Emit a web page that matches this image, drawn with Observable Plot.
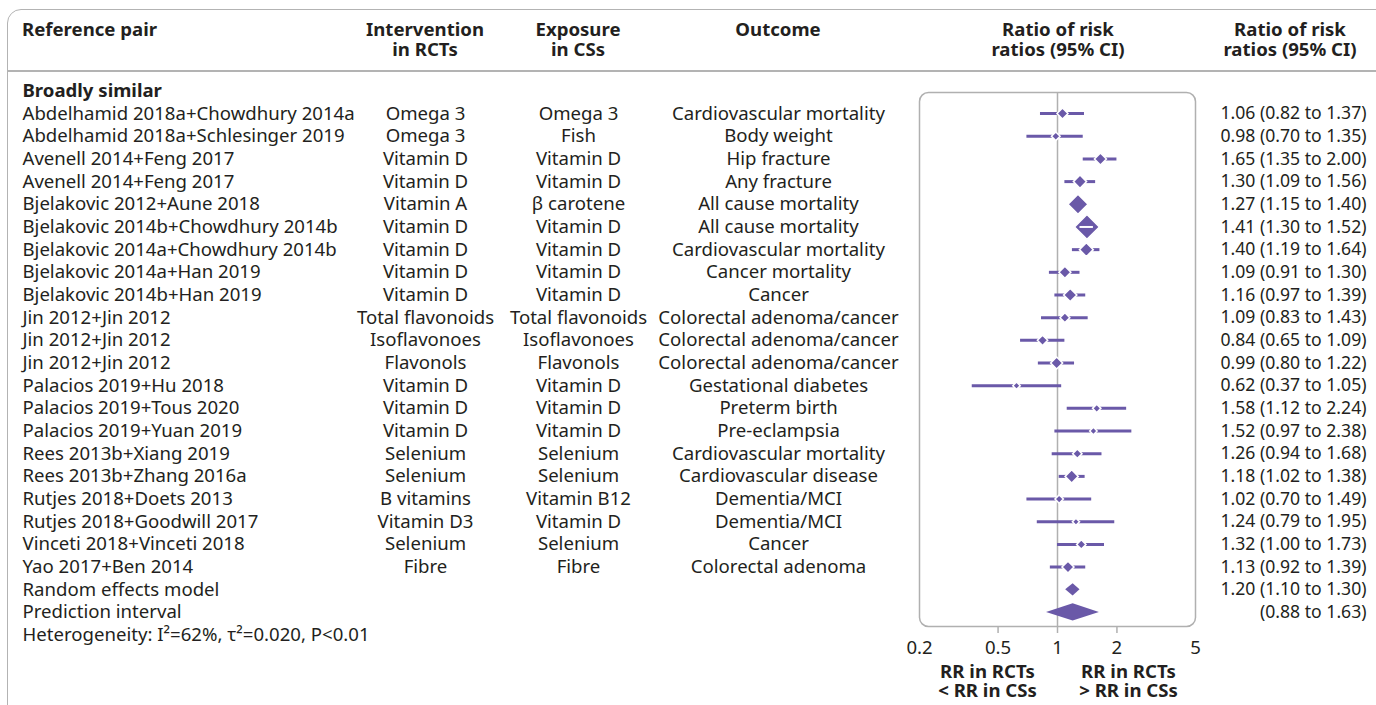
<!DOCTYPE html>
<html><head><meta charset="utf-8">
<script src="https://cdn.jsdelivr.net/npm/d3@7"></script>
<script src="https://cdn.jsdelivr.net/npm/@observablehq/plot@0.6"></script>
<style>
body{margin:0;width:1376px;height:705px;overflow:hidden;background:#fff;font-family:"Noto Sans",sans-serif;color:#231f20;position:relative}
#panel{position:absolute;left:7px;top:9px;width:1420px;height:760px;border:1.5px solid #b3b3b3;border-radius:14px;box-sizing:border-box}
#rule{position:absolute;left:8px;right:0;top:70px;height:1.5px;background:#b3b3b3}
.h{position:absolute;top:19px;font-weight:700;font-size:18.6px;line-height:20px;white-space:nowrap}
.c{transform:translateX(-50%);text-align:center}
#chart{position:absolute;left:0;top:0}
</style></head><body>
<div id="panel"></div><div id="rule"></div>
<div class="h" style="left:22px">Reference pair</div>
<div class="h c" style="left:425px">Intervention<br>in RCTs</div>
<div class="h c" style="left:578px">Exposure<br>in CSs</div>
<div class="h c" style="left:778px">Outcome</div>
<div class="h c" style="left:1058px">Ratio of risk<br>ratios (95% CI)</div>
<div class="h c" style="left:1290px">Ratio of risk<br>ratios (95% CI)</div>
<div id="chart"></div>
<script>
const groupLabel = "Broadly similar";
const pairs = ["Abdelhamid 2018a+Chowdhury 2014a","Abdelhamid 2018a+Schlesinger 2019","Avenell 2014+Feng 2017","Avenell 2014+Feng 2017","Bjelakovic 2012+Aune 2018","Bjelakovic 2014b+Chowdhury 2014b","Bjelakovic 2014a+Chowdhury 2014b","Bjelakovic 2014a+Han 2019","Bjelakovic 2014b+Han 2019","Jin 2012+Jin 2012","Jin 2012+Jin 2012","Jin 2012+Jin 2012","Palacios 2019+Hu 2018","Palacios 2019+Tous 2020","Palacios 2019+Yuan 2019","Rees 2013b+Xiang 2019","Rees 2013b+Zhang 2016a","Rutjes 2018+Doets 2013","Rutjes 2018+Goodwill 2017","Vinceti 2018+Vinceti 2018","Yao 2017+Ben 2014"];
const interventions = ["Omega 3","Omega 3","Vitamin D","Vitamin D","Vitamin A","Vitamin D","Vitamin D","Vitamin D","Vitamin D","Total flavonoids","Isoflavonoes","Flavonols","Vitamin D","Vitamin D","Vitamin D","Selenium","Selenium","B vitamins","Vitamin D3","Selenium","Fibre"];
const exposures = ["Omega 3","Fish","Vitamin D","Vitamin D","β carotene","Vitamin D","Vitamin D","Vitamin D","Vitamin D","Total flavonoids","Isoflavonoes","Flavonols","Vitamin D","Vitamin D","Vitamin D","Selenium","Selenium","Vitamin B12","Vitamin D","Selenium","Fibre"];
const outcomes = ["Cardiovascular mortality","Body weight","Hip fracture","Any fracture","All cause mortality","All cause mortality","Cardiovascular mortality","Cancer mortality","Cancer","Colorectal adenoma/cancer","Colorectal adenoma/cancer","Colorectal adenoma/cancer","Gestational diabetes","Preterm birth","Pre-eclampsia","Cardiovascular mortality","Cardiovascular disease","Dementia/MCI","Dementia/MCI","Cancer","Colorectal adenoma"];
const rrr = [1.06,0.98,1.65,1.30,1.27,1.41,1.40,1.09,1.16,1.09,0.84,0.99,0.62,1.58,1.52,1.26,1.18,1.02,1.24,1.32,1.13];
const lower = [0.82,0.70,1.35,1.09,1.15,1.30,1.19,0.91,0.97,0.83,0.65,0.80,0.37,1.12,0.97,0.94,1.02,0.70,0.79,1.00,0.92];
const upper = [1.37,1.35,2.00,1.56,1.40,1.52,1.64,1.30,1.39,1.43,1.09,1.22,1.05,2.24,2.38,1.68,1.38,1.49,1.95,1.73,1.39];
// marker size (relative study weight)
const weight = [7.7,5.3,8.7,10,17,22,10.7,8.7,10,6.5,7,8.7,4,5,4,6,10,5,3.7,6,8.7];
const summaryLabels = ["Random effects model","Prediction interval"];
const pooled = {rr:1.20, lo:1.10, hi:1.30};
const prediction = {lo:0.88, hi:1.63};
const heterogeneity = "Heterogeneity: I²=62%, τ²=0.020, P<0.01";
const xTicks = [0.2,0.5,1,2,5];
const innerTicks = [0.5,1,2];
const sideLabels = ["RR in RCTs\n< RR in CSs","RR in RCTs\n> RR in CSs"];

const purple = "#6a59a8", grey = "#b0b0b0", ink = "#231f20";
const fs = 18.6, fsNum = 17.6;
const f2 = v => v.toFixed(2);
const studies = pairs.map((p,i)=>({row:i,pair:p,intervention:interventions[i],exposure:exposures[i],outcome:outcomes[i],rr:rrr[i],lo:lower[i],hi:upper[i],w:weight[i],
  label:`${f2(rrr[i])} (${f2(lower[i])} to ${f2(upper[i])})`}));
const nS = studies.length;
const summaryRows = [
  {row:nS, pair:summaryLabels[0], label:`${f2(pooled.rr)} (${f2(pooled.lo)} to ${f2(pooled.hi)})`, lo:pooled.lo, hi:pooled.hi, rr:pooled.rr, h:0.27},
  {row:nS+1, pair:summaryLabels[1], label:`(${f2(prediction.lo)} to ${f2(prediction.hi)})`, lo:prediction.lo, hi:prediction.hi, rr:pooled.rr, h:0.38}
];
const diamonds = summaryRows.flatMap(s=>[
  {id:s.row,x:s.lo,y1:s.row,y2:s.row},
  {id:s.row,x:s.rr,y1:s.row-s.h,y2:s.row+s.h},
  {id:s.row,x:s.hi,y1:s.row,y2:s.row}]);
const allRows = [...studies, ...summaryRows];
// CI fully inside marker -> drawn in white (px per decade ~197.5)
const inside = studies.filter(d => 197.5*Math.log10(d.hi/d.lo) < d.w*0.95);

const L = 919;
const chart = Plot.plot({
  width:1376, height:705,
  marginLeft:L, marginRight:181, marginTop:92, marginBottom:79,
  style:{fontFamily:'"Noto Sans",sans-serif', color:ink, background:"transparent", overflow:"visible"},
  x:{type:"log", domain:[0.2,5], axis:null},
  y:{domain:[-0.93,nS+1.62], reverse:true, axis:null},
  r:{type:"linear", domain:[0,22], range:[1.6,11.2]},
  marks:[
    Plot.frame({rx:9, stroke:grey, strokeWidth:1.5}),
    Plot.ruleX([1], {stroke:grey, strokeWidth:1.5}),
    Plot.axisX(innerTicks, {tickSize:7, tickFormat:()=>"", stroke:grey, strokeWidth:1.5}),
    Plot.text(xTicks, {x:d=>d, text:d=>String(d), frameAnchor:"bottom", lineAnchor:"middle", dy:22, fontSize:fs, fill:ink}),
    Plot.ruleY(studies, {y:"row", x1:"lo", x2:"hi", stroke:purple, strokeWidth:3}),
    Plot.dot(studies, {x:"rr", y:"row", r:"w", symbol:"diamond2", fill:purple, stroke:"white", strokeWidth:1.5}),
    Plot.ruleY(inside, {y:"row", x1:"lo", x2:"hi", stroke:"white", strokeWidth:2}),
    Plot.areaY(diamonds, {x:"x", y1:"y1", y2:"y2", z:"id", fill:purple, curve:"linear"}),
    Plot.text([groupLabel], {y:[-1], text:d=>d, frameAnchor:"left", textAnchor:"start", dx:22-L, fontSize:fs, fontWeight:700, fill:ink}),
    Plot.text(allRows, {y:"row", text:"pair", frameAnchor:"left", textAnchor:"start", dx:22-L, fontSize:fs, fill:ink}),
    Plot.text(studies, {y:"row", text:"intervention", frameAnchor:"left", textAnchor:"middle", dx:425-L, fontSize:fs, fill:ink}),
    Plot.text(studies, {y:"row", text:"exposure", frameAnchor:"left", textAnchor:"middle", dx:578-L, fontSize:fs, fill:ink}),
    Plot.text(studies, {y:"row", text:"outcome", frameAnchor:"left", textAnchor:"middle", dx:778-L, fontSize:fs, fill:ink}),
    Plot.text(allRows, {y:"row", text:"label", frameAnchor:"right", textAnchor:"end", dx:1366-1195, fontSize:fsNum, fill:ink}),
    Plot.text([heterogeneity], {y:[nS+2], text:d=>d, frameAnchor:"left", textAnchor:"start", dx:22-L, fontSize:fs, fill:ink}),
    Plot.text([sideLabels[0]], {x:[1], text:d=>d, frameAnchor:"bottom", lineAnchor:"middle", textAnchor:"middle", dx:-70, dy:55, lineHeight:1.02, fontSize:fs, fontWeight:700, fill:ink}),
    Plot.text([sideLabels[1]], {x:[1], text:d=>d, frameAnchor:"bottom", lineAnchor:"middle", textAnchor:"middle", dx:71, dy:55, lineHeight:1.02, fontSize:fs, fontWeight:700, fill:ink})
  ]
});
document.getElementById("chart").appendChild(chart);
</script>
</body></html>
